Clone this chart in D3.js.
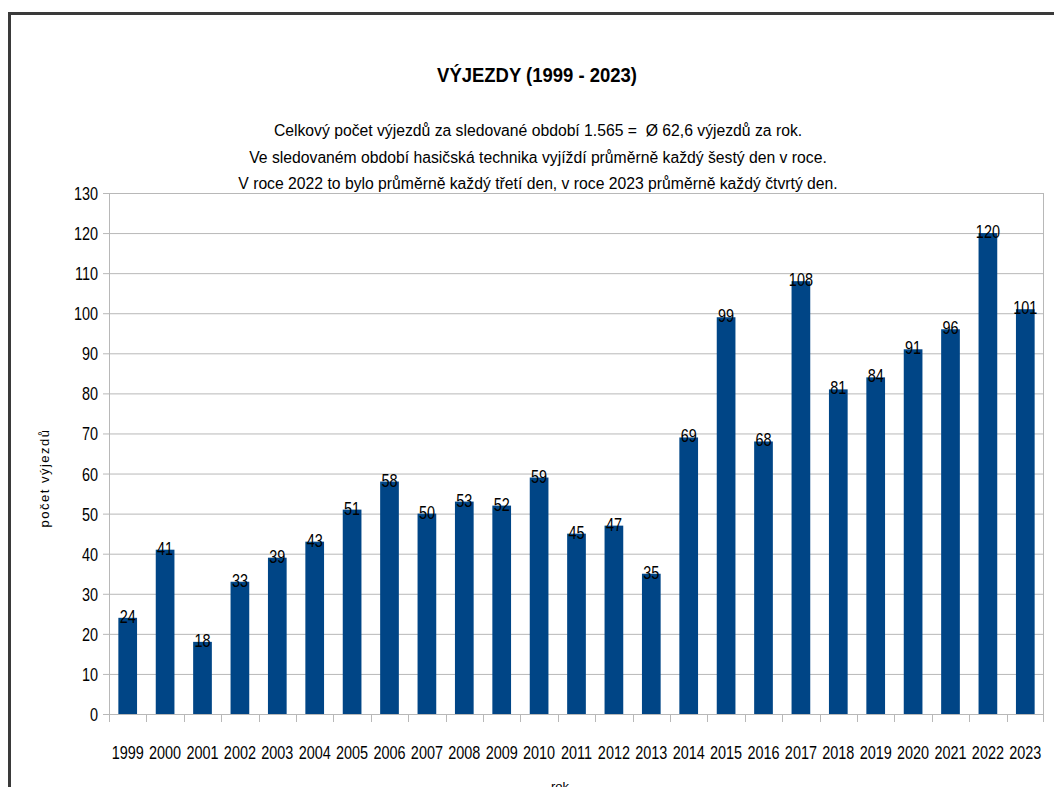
<!DOCTYPE html>
<html>
<head>
<meta charset="utf-8">
<script src="https://cdn.jsdelivr.net/npm/d3@7"></script>
<style>
  body { margin: 0; background: #fff; }
  svg text { font-family: "Liberation Sans", Arial, sans-serif; fill: #000; }
</style>
</head>
<body>
<div id="chart"></div>
<script>
var years = ["1999","2000","2001","2002","2003","2004","2005","2006","2007","2008","2009","2010","2011","2012","2013","2014","2015","2016","2017","2018","2019","2020","2021","2022","2023"];
var vyjezdy = [24,41,18,33,39,43,51,58,50,53,52,59,45,47,35,69,99,68,108,81,84,91,96,120,101];
var yTicks = [0,10,20,30,40,50,60,70,80,90,100,110,120,130];

var title = "VÝJEZDY (1999 - 2023)";
var subtitle = [
  "Celkový počet výjezdů za sledované období 1.565 =  Ø 62,6 výjezdů za rok.",
  "Ve sledovaném období hasičská technika vyjíždí průměrně každý šestý den v roce.",
  "V roce 2022 to bylo průměrně každý třetí den, v roce 2023 průměrně každý čtvrtý den."
];

var w = 1054, h = 787;
var plotLeft = 109, plotRight = 1044, plotTop = 193, plotBottom = 714;

// narrow font look: squeeze the text horizontally round its anchor
function place(px, py, sx) {
    return function(d, i) {
        return "translate(" + px(d, i) + "," + py(d, i) + ") scale(" + sx + ",1)";
    };
}

var svg = d3.select("#chart").append("svg")
    .attr("width", w)
    .attr("height", h);

// frame round the chart
svg.append("path")
    .attr("d", "M9.5," + h + " V13.5 H" + w)
    .attr("fill", "none")
    .attr("stroke", "#3a3a3a")
    .attr("stroke-width", 3);

var x = d3.scaleBand()
    .domain(years)
    .range([plotLeft, plotRight])
    .paddingInner(0.5)
    .paddingOuter(0.25);

var y = d3.scaleLinear()
    .domain([0, 130])
    .range([plotBottom, plotTop]);

// gridlines
svg.append("g")
    .attr("transform", "translate(" + plotLeft + ",0)")
    .call(d3.axisLeft(y).tickValues(yTicks).tickSize(-(plotRight - plotLeft)).tickSizeOuter(0).tickFormat(""))
    .call(function(g) {
        g.select(".domain").remove();
        g.selectAll("line").attr("stroke", "#b8b8b8").attr("x1", -6);
    });

// plot border (left and right)
svg.append("line").attr("x1", plotLeft + 0.5).attr("x2", plotLeft + 0.5).attr("y1", plotTop).attr("y2", plotBottom + 8)
    .attr("stroke", "#b8b8b8");
svg.append("line").attr("x1", plotRight - 0.5).attr("x2", plotRight - 0.5).attr("y1", plotTop).attr("y2", plotBottom + 8)
    .attr("stroke", "#b8b8b8");

// y labels
svg.append("g").selectAll("text")
    .data(yTicks)
    .enter().append("text")
    .attr("transform", place(function() { return 98; }, function(d) { return y(d) + 7; }, 0.78))
    .attr("text-anchor", "end")
    .attr("font-size", 18.5)
    .text(function(d) { return d; });

// x axis with ticks at the category boundaries
var step = x.step();
svg.append("g").selectAll("line")
    .data(years)
    .enter().append("line")
    .attr("x1", function(d) { return Math.round(x(d) - step * 0.25) + 0.5; })
    .attr("x2", function(d) { return Math.round(x(d) - step * 0.25) + 0.5; })
    .attr("y1", plotBottom)
    .attr("y2", plotBottom + 8)
    .attr("stroke", "#b8b8b8");
svg.append("line").attr("x1", plotLeft).attr("x2", plotRight).attr("y1", plotBottom + 0.5).attr("y2", plotBottom + 0.5)
    .attr("stroke", "#b8b8b8");

svg.append("g").selectAll("text")
    .data(years)
    .enter().append("text")
    .attr("transform", place(function(d) { return x(d) + x.bandwidth() / 2; }, function() { return 759; }, 0.78))
    .attr("text-anchor", "middle")
    .attr("font-size", 18.5)
    .text(function(d) { return d; });

// bars
svg.append("g").selectAll("rect")
    .data(vyjezdy)
    .enter().append("rect")
    .attr("x", function(d, i) { return x(years[i]); })
    .attr("y", function(d) { return y(d); })
    .attr("width", x.bandwidth())
    .attr("height", function(d) { return y(0) - y(d); })
    .attr("fill", "#004586");

// value labels
svg.append("g").selectAll("text")
    .data(vyjezdy)
    .enter().append("text")
    .attr("transform", place(function(d, i) { return x(years[i]) + x.bandwidth() / 2; }, function(d) { return y(d) + 5; }, 0.78))
    .attr("text-anchor", "middle")
    .attr("font-size", 18.5)
    .text(function(d) { return d; });

// titles
svg.append("text")
    .attr("transform", "translate(537,82) scale(0.88,1)")
    .attr("text-anchor", "middle")
    .attr("font-size", 21)
    .attr("font-weight", "bold")
    .text(title);

svg.append("g").selectAll("text")
    .data(subtitle)
    .enter().append("text")
    .attr("transform", place(function() { return 538; }, function(d, i) { return 136 + i * 26.5; }, 0.91))
    .attr("text-anchor", "middle")
    .attr("font-size", 17.3)
    .style("white-space", "pre")
    .text(function(d) { return d; });

// axis titles
svg.append("text")
    .attr("transform", "translate(49,478) rotate(-90)")
    .attr("text-anchor", "middle")
    .attr("font-size", 13)
    .attr("letter-spacing", 1.5)
    .text("počet výjezdů");

svg.append("text")
    .attr("x", 560).attr("y", 791)
    .attr("text-anchor", "middle")
    .attr("font-size", 13)
    .text("rok");
</script>
</body>
</html>
